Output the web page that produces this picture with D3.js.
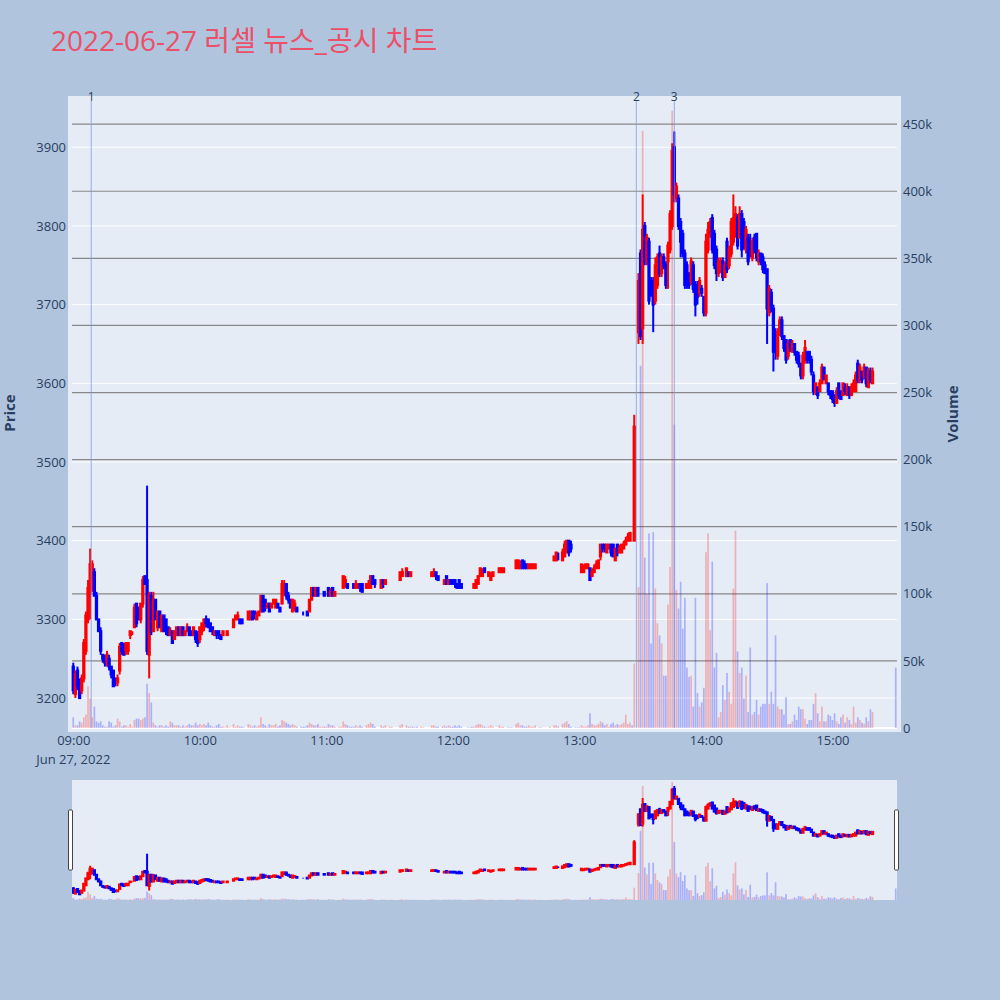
<!DOCTYPE html>
<html>
<head>
<meta charset="utf-8">
<script src="https://cdn.jsdelivr.net/npm/d3@7"></script>
<style>
  body { margin: 0; background: #b0c4de; }
  text { font-family: 'Open Sans', 'Noto Sans CJK KR', sans-serif; }
</style>
</head>
<body>
<svg id="chart" width="1000" height="1000"></svg>
<script>
const day = '2022-06-27'
const title = '2022-06-27 러셀 뉴스_공시 차트'

// one-minute bars: [time, open, high, low, close, volume]
const bars09 = [
  ['09:00', 3240, 3245, 3205, 3210, 8000], ['09:01', 3205, 3235, 3200, 3230, 2000],
  ['09:02', 3235, 3240, 3210, 3215, 2000], ['09:03', 3220, 3225, 3200, 3200, 5000],
  ['09:04', 3210, 3230, 3205, 3225, 4000], ['09:05', 3225, 3275, 3220, 3270, 8000],
  ['09:06', 3260, 3310, 3255, 3305, 10000], ['09:07', 3300, 3350, 3295, 3340, 31000],
  ['09:08', 3335, 3390, 3300, 3370, 22000], ['09:09', 3340, 3375, 3335, 3370, 8000],
  ['09:10', 3360, 3365, 3330, 3330, 16000], ['09:11', 3330, 3335, 3300, 3300, 5000],
  ['09:12', 3300, 3300, 3285, 3285, 4000], ['09:13', 3285, 3290, 3255, 3260, 5000],
  ['09:14', 3255, 3255, 3245, 3250, 2000], ['09:15', 3250, 3255, 3240, 3245, 1000],
  ['09:16', 3245, 3260, 3240, 3255, 1000], ['09:17', 3250, 3255, 3235, 3240, 5000],
  ['09:18', 3240, 3240, 3225, 3230, 4000], ['09:19', 3235, 3235, 3215, 3215, 1000],
  ['09:20', 3225, 3225, 3215, 3220, 2000], ['09:21', 3220, 3230, 3215, 3225, 7000],
  ['09:22', 3235, 3270, 3230, 3265, 5000], ['09:23', 3270, 3270, 3255, 3260, 1000],
  ['09:24', 3265, 3270, 3255, 3255, 2000], ['09:25', 3260, 3270, 3255, 3270, 2000],
  ['09:26', 3260, 3270, 3255, 3270, 1000], ['09:27', 3280, 3285, 3275, 3285, 3000],
  ['09:28', 3285, 3285, 3280, 3285, 1000], ['09:29', 3290, 3320, 3290, 3315, 6000],
  ['09:30', 3320, 3320, 3290, 3295, 7000], ['09:31', 3315, 3315, 3300, 3300, 7000],
  ['09:32', 3300, 3320, 3295, 3320, 6000], ['09:33', 3320, 3355, 3315, 3350, 7000],
  ['09:34', 3355, 3355, 3345, 3345, 8000], ['09:35', 3350, 3470, 3255, 3260, 33000],
  ['09:36', 3255, 3335, 3225, 3330, 26000], ['09:37', 3330, 3335, 3280, 3285, 19000],
  ['09:38', 3285, 3335, 3285, 3325, 4000], ['09:39', 3325, 3325, 3300, 3300, 2000],
  ['09:40', 3290, 3310, 3285, 3310, 1000], ['09:41', 3310, 3310, 3290, 3290, 2000],
  ['09:42', 3285, 3305, 3285, 3305, 2000], ['09:43', 3305, 3305, 3285, 3285, 1000],
  ['09:44', 3300, 3300, 3280, 3285, 2000], ['09:45', 3290, 3290, 3280, 3280, 1000],
  ['09:46', 3280, 3290, 3280, 3285, 5000], ['09:47', 3285, 3285, 3270, 3270, 4000],
  ['09:48', 3275, 3285, 3275, 3285, 2000], ['09:49', 3280, 3290, 3280, 3290, 2000],
  ['09:50', 3290, 3290, 3280, 3280, 2000], ['09:51', 3280, 3290, 3280, 3290, 1000],
  ['09:52', 3290, 3290, 3280, 3280, 2000], ['09:53', 3280, 3285, 3280, 3285, 1000],
  ['09:54', 3285, 3295, 3285, 3290, 2000], ['09:55', 3290, 3290, 3280, 3280, 3000],
  ['09:56', 3285, 3285, 3280, 3280, 2000], ['09:57', 3280, 3290, 3280, 3290, 2000],
  ['09:58', 3285, 3285, 3270, 3275, 4000], ['09:59', 3280, 3285, 3265, 3270, 2000]
]
const bars10 = [
  ['10:00', 3275, 3290, 3270, 3290, 3000], ['10:01', 3285, 3295, 3280, 3295, 2000],
  ['10:02', 3290, 3300, 3285, 3300, 3000], ['10:03', 3300, 3305, 3290, 3295, 2000],
  ['10:04', 3300, 3300, 3290, 3290, 4000], ['10:05', 3295, 3295, 3285, 3285, 2000],
  ['10:06', 3290, 3290, 3280, 3285, 1000], ['10:07', 3280, 3285, 3280, 3285, 1000],
  ['10:08', 3285, 3285, 3275, 3280, 2000], ['10:09', 3285, 3285, 3275, 3280, 3000],
  ['10:10', 3280, 3280, 3275, 3275, 1000], ['10:11', 3280, 3285, 3280, 3285, 1000],
  ['10:12', 3285, 3285, 3285, 3285, 500], ['10:13', 3280, 3285, 3280, 3285, 2000],
  ['10:14', 3285, 3285, 3285, 3285, 500], ['10:16', 3290, 3300, 3290, 3300, 3000],
  ['10:17', 3300, 3305, 3300, 3305, 1000], ['10:18', 3300, 3310, 3300, 3305, 2000],
  ['10:19', 3300, 3300, 3295, 3295, 1000], ['10:20', 3300, 3300, 3295, 3295, 1000],
  ['10:21', 3295, 3295, 3295, 3295, 500], ['10:23', 3300, 3310, 3300, 3310, 3000],
  ['10:24', 3300, 3310, 3300, 3310, 2000], ['10:25', 3310, 3310, 3300, 3300, 1000],
  ['10:26', 3310, 3310, 3300, 3305, 2000], ['10:27', 3300, 3310, 3300, 3305, 1000],
  ['10:28', 3305, 3310, 3305, 3310, 2000], ['10:29', 3310, 3330, 3310, 3330, 8000],
  ['10:30', 3330, 3330, 3310, 3310, 3000], ['10:31', 3325, 3325, 3310, 3315, 2000],
  ['10:32', 3315, 3320, 3315, 3320, 1000], ['10:33', 3320, 3320, 3310, 3310, 3000],
  ['10:34', 3315, 3320, 3315, 3320, 2000], ['10:35', 3320, 3325, 3320, 3325, 2000],
  ['10:36', 3315, 3325, 3315, 3325, 3000], ['10:37', 3320, 3320, 3315, 3315, 1000],
  ['10:38', 3315, 3315, 3310, 3310, 2000], ['10:39', 3320, 3350, 3320, 3345, 6000],
  ['10:40', 3335, 3350, 3330, 3345, 5000], ['10:41', 3345, 3345, 3325, 3330, 4000],
  ['10:42', 3330, 3335, 3320, 3325, 3000], ['10:43', 3325, 3325, 3315, 3315, 2000],
  ['10:44', 3310, 3325, 3310, 3325, 3000], ['10:45', 3315, 3325, 3310, 3320, 2000],
  ['10:46', 3315, 3315, 3310, 3310, 1000], ['10:48', 3310, 3310, 3310, 3310, 1000],
  ['10:49', 3310, 3310, 3305, 3310, 1000], ['10:50', 3310, 3310, 3310, 3310, 1000],
  ['10:51', 3310, 3310, 3305, 3305, 2000], ['10:52', 3310, 3325, 3310, 3325, 4000],
  ['10:53', 3325, 3340, 3325, 3340, 3000], ['10:54', 3340, 3340, 3330, 3330, 2000],
  ['10:55', 3330, 3340, 3330, 3340, 2000], ['10:56', 3340, 3340, 3330, 3330, 3000],
  ['10:57', 3335, 3335, 3335, 3335, 1000], ['10:58', 3335, 3335, 3335, 3335, 1000],
  ['10:59', 3335, 3335, 3330, 3330, 1000]
]
const bars11 = [
  ['11:00', 3335, 3335, 3335, 3335, 1000], ['11:01', 3340, 3340, 3330, 3330, 3000],
  ['11:02', 3330, 3340, 3330, 3335, 2000], ['11:03', 3340, 3340, 3330, 3330, 2000],
  ['11:04', 3330, 3335, 3330, 3335, 1000], ['11:06', 3340, 3340, 3340, 3340, 1000],
  ['11:07', 3340, 3340, 3340, 3340, 1000], ['11:08', 3340, 3355, 3340, 3355, 5000],
  ['11:09', 3345, 3355, 3340, 3350, 3000], ['11:10', 3345, 3345, 3340, 3340, 2000],
  ['11:11', 3340, 3340, 3340, 3340, 1000], ['11:12', 3340, 3340, 3340, 3340, 1000],
  ['11:13', 3345, 3345, 3340, 3340, 1000], ['11:14', 3340, 3350, 3340, 3345, 2000],
  ['11:15', 3340, 3345, 3340, 3345, 1000], ['11:16', 3345, 3345, 3335, 3340, 2000],
  ['11:17', 3345, 3345, 3335, 3335, 1000], ['11:19', 3340, 3345, 3340, 3345, 2000],
  ['11:20', 3340, 3350, 3340, 3345, 3000], ['11:21', 3340, 3355, 3340, 3355, 4000],
  ['11:22', 3355, 3355, 3345, 3345, 3000], ['11:23', 3350, 3350, 3340, 3345, 1000],
  ['11:26', 3340, 3350, 3340, 3350, 2000], ['11:27', 3350, 3350, 3340, 3345, 1000],
  ['11:28', 3345, 3350, 3345, 3350, 2000], ['11:30', 3355, 3355, 3355, 3355, 1000],
  ['11:31', 3355, 3355, 3355, 3355, 1000], ['11:35', 3350, 3360, 3350, 3360, 2000],
  ['11:36', 3355, 3365, 3355, 3360, 3000], ['11:38', 3355, 3365, 3355, 3365, 2000],
  ['11:39', 3360, 3360, 3355, 3355, 1000], ['11:40', 3355, 3360, 3355, 3360, 1000],
  ['11:41', 3355, 3355, 3355, 3355, 1000], ['11:42', 3355, 3355, 3355, 3355, 500],
  ['11:43', 3355, 3355, 3355, 3355, 1000], ['11:45', 3360, 3360, 3360, 3360, 1000],
  ['11:46', 3360, 3360, 3360, 3360, 500], ['11:50', 3355, 3360, 3355, 3360, 2000],
  ['11:51', 3355, 3365, 3355, 3360, 2000], ['11:52', 3360, 3360, 3350, 3355, 1000],
  ['11:53', 3355, 3355, 3350, 3350, 1000], ['11:55', 3345, 3345, 3345, 3345, 1000],
  ['11:56', 3345, 3350, 3345, 3350, 2000], ['11:57', 3355, 3355, 3345, 3345, 1000],
  ['11:58', 3345, 3350, 3345, 3350, 2000], ['11:59', 3350, 3350, 3345, 3345, 1000]
]
const bars12 = [
  ['12:00', 3350, 3350, 3345, 3345, 1000], ['12:01', 3350, 3350, 3340, 3345, 2000],
  ['12:02', 3345, 3345, 3340, 3340, 1000], ['12:03', 3350, 3350, 3340, 3340, 2000],
  ['12:04', 3345, 3345, 3340, 3340, 1000], ['12:07', 3340, 3340, 3340, 3340, 500],
  ['12:08', 3340, 3340, 3340, 3340, 500], ['12:09', 3340, 3340, 3340, 3340, 1000],
  ['12:10', 3340, 3345, 3340, 3345, 1000], ['12:11', 3340, 3350, 3340, 3350, 2000],
  ['12:12', 3345, 3355, 3345, 3355, 3000], ['12:13', 3355, 3365, 3355, 3365, 3000],
  ['12:14', 3355, 3365, 3355, 3360, 2000], ['12:15', 3365, 3365, 3360, 3360, 1000],
  ['12:16', 3360, 3360, 3360, 3360, 500], ['12:17', 3355, 3360, 3355, 3360, 1000],
  ['12:18', 3350, 3360, 3350, 3355, 2000], ['12:19', 3355, 3360, 3355, 3360, 1000],
  ['12:22', 3360, 3365, 3360, 3365, 2000], ['12:23', 3360, 3365, 3360, 3365, 1000],
  ['12:24', 3360, 3365, 3360, 3365, 1000], ['12:26', 3360, 3360, 3360, 3360, 500],
  ['12:27', 3360, 3360, 3360, 3360, 500], ['12:28', 3360, 3360, 3360, 3360, 500],
  ['12:30', 3365, 3375, 3365, 3375, 3000], ['12:31', 3365, 3375, 3365, 3375, 4000],
  ['12:32', 3365, 3375, 3365, 3370, 2000], ['12:33', 3375, 3375, 3365, 3365, 2000],
  ['12:34', 3370, 3375, 3365, 3365, 1000], ['12:35', 3370, 3370, 3365, 3365, 1000],
  ['12:36', 3365, 3370, 3365, 3370, 2000], ['12:37', 3365, 3370, 3365, 3370, 1000],
  ['12:38', 3365, 3370, 3365, 3370, 1000], ['12:39', 3365, 3370, 3365, 3370, 2000],
  ['12:41', 3360, 3360, 3360, 3360, 500], ['12:42', 3360, 3360, 3360, 3360, 500],
  ['12:46', 3370, 3370, 3370, 3370, 1000], ['12:48', 3375, 3380, 3375, 3380, 2000],
  ['12:49', 3375, 3385, 3375, 3385, 2000], ['12:50', 3380, 3385, 3375, 3380, 1000],
  ['12:52', 3375, 3390, 3375, 3385, 3000], ['12:53', 3380, 3400, 3380, 3395, 4000],
  ['12:54', 3385, 3400, 3385, 3400, 5000], ['12:55', 3400, 3400, 3380, 3385, 3000],
  ['12:56', 3395, 3400, 3385, 3390, 1000], ['12:58', 3375, 3375, 3375, 3375, 500],
  ['12:59', 3375, 3375, 3375, 3375, 500]
]
const bars13 = [
  ['13:00', 3370, 3370, 3370, 3370, 500], ['13:01', 3360, 3370, 3360, 3370, 2000],
  ['13:02', 3360, 3370, 3360, 3365, 1000], ['13:03', 3365, 3370, 3365, 3370, 1000],
  ['13:04', 3365, 3370, 3365, 3370, 2000], ['13:05', 3365, 3365, 3350, 3350, 11000],
  ['13:06', 3355, 3365, 3355, 3360, 3000], ['13:07', 3360, 3370, 3360, 3365, 2000],
  ['13:08', 3365, 3375, 3365, 3370, 2000], ['13:09', 3365, 3375, 3365, 3375, 3000],
  ['13:10', 3380, 3395, 3375, 3395, 5000], ['13:11', 3395, 3395, 3385, 3390, 4000],
  ['13:12', 3395, 3395, 3385, 3390, 2000], ['13:13', 3385, 3395, 3385, 3395, 3000],
  ['13:14', 3390, 3395, 3390, 3395, 1000], ['13:15', 3395, 3395, 3380, 3385, 3000],
  ['13:16', 3395, 3395, 3380, 3380, 4000], ['13:17', 3375, 3390, 3375, 3390, 2000],
  ['13:18', 3395, 3395, 3380, 3385, 3000], ['13:19', 3385, 3395, 3385, 3390, 2000],
  ['13:20', 3385, 3395, 3385, 3395, 3000], ['13:21', 3390, 3400, 3390, 3395, 4000],
  ['13:22', 3395, 3405, 3395, 3400, 10000], ['13:23', 3400, 3410, 3400, 3405, 3000],
  ['13:24', 3400, 3410, 3400, 3410, 4000], ['13:25', 3400, 3400, 3400, 3400, 2000],
  ['13:26', 3400, 3560, 3400, 3545, 48000], ['13:28', 3665, 3740, 3650, 3730, 105000],
  ['13:29', 3765, 3770, 3655, 3660, 270000], ['13:30', 3670, 3840, 3650, 3795, 445000],
  ['13:31', 3800, 3805, 3750, 3755, 127000], ['13:32', 3755, 3790, 3750, 3785, 100000],
  ['13:33', 3780, 3785, 3700, 3705, 145000], ['13:34', 3730, 3735, 3710, 3715, 63000],
  ['13:35', 3730, 3735, 3665, 3700, 146000], ['13:36', 3705, 3760, 3700, 3750, 104000],
  ['13:37', 3725, 3765, 3720, 3760, 78000], ['13:38', 3765, 3775, 3735, 3740, 69000],
  ['13:39', 3740, 3765, 3735, 3760, 63000], ['13:40', 3760, 3765, 3745, 3750, 39000],
  ['13:41', 3750, 3755, 3720, 3725, 39000], ['13:42', 3755, 3780, 3720, 3775, 92000],
  ['13:43', 3770, 3820, 3765, 3815, 120000], ['13:44', 3800, 3905, 3795, 3895, 460000],
  ['13:45', 3900, 3920, 3830, 3840, 226000], ['13:46', 3835, 3855, 3830, 3850, 103000],
  ['13:47', 3835, 3840, 3795, 3800, 89000], ['13:48', 3805, 3810, 3760, 3780, 109000],
  ['13:49', 3790, 3795, 3760, 3765, 74000], ['13:50', 3765, 3770, 3720, 3725, 97000],
  ['13:51', 3750, 3755, 3720, 3730, 45000], ['13:52', 3740, 3740, 3720, 3725, 38000],
  ['13:53', 3730, 3760, 3725, 3755, 39000], ['13:54', 3750, 3755, 3715, 3720, 16000],
  ['13:55', 3725, 3730, 3685, 3700, 97000], ['13:56', 3720, 3730, 3700, 3710, 26000],
  ['13:57', 3715, 3735, 3710, 3730, 16000], ['13:58', 3720, 3725, 3710, 3715, 19000],
  ['13:59', 3710, 3710, 3685, 3690, 30000]
]
const bars14 = [
  ['14:00', 3690, 3790, 3685, 3780, 131000], ['14:01', 3770, 3805, 3765, 3795, 145000],
  ['14:02', 3790, 3810, 3785, 3805, 73000], ['14:03', 3810, 3815, 3765, 3770, 124000],
  ['14:04', 3790, 3795, 3745, 3750, 45000], ['14:05', 3770, 3775, 3730, 3740, 56000],
  ['14:06', 3740, 3760, 3735, 3755, 8000], ['14:07', 3745, 3760, 3740, 3755, 12000],
  ['14:08', 3755, 3760, 3730, 3735, 32000], ['14:09', 3735, 3755, 3735, 3750, 21000],
  ['14:10', 3780, 3785, 3740, 3745, 41000], ['14:11', 3750, 3775, 3745, 3770, 27000],
  ['14:12', 3765, 3810, 3760, 3805, 18000], ['14:13', 3780, 3840, 3775, 3810, 104000],
  ['14:14', 3790, 3825, 3785, 3815, 147000], ['14:15', 3810, 3815, 3770, 3775, 57000],
  ['14:16', 3785, 3825, 3785, 3815, 41000], ['14:17', 3815, 3820, 3760, 3770, 45000],
  ['14:18', 3805, 3810, 3770, 3775, 22000], ['14:19', 3770, 3800, 3765, 3795, 39000],
  ['14:20', 3785, 3790, 3750, 3755, 12000], ['14:21', 3780, 3790, 3760, 3770, 60000],
  ['14:22', 3760, 3785, 3755, 3780, 10000], ['14:23', 3785, 3790, 3765, 3770, 12000],
  ['14:24', 3790, 3790, 3755, 3760, 21000], ['14:25', 3755, 3770, 3750, 3765, 10000],
  ['14:26', 3765, 3765, 3750, 3755, 16000], ['14:27', 3760, 3765, 3740, 3745, 18000],
  ['14:28', 3750, 3755, 3740, 3740, 18000], ['14:29', 3745, 3745, 3650, 3695, 108000],
  ['14:30', 3690, 3725, 3685, 3720, 18000], ['14:31', 3715, 3720, 3690, 3695, 27000],
  ['14:32', 3695, 3700, 3615, 3640, 18000], ['14:33', 3665, 3670, 3630, 3640, 69000],
  ['14:34', 3635, 3670, 3630, 3665, 16000], ['14:35', 3665, 3685, 3660, 3680, 14000],
  ['14:36', 3680, 3685, 3655, 3660, 14000], ['14:37', 3660, 3660, 3640, 3645, 10000],
  ['14:38', 3655, 3655, 3625, 3630, 23000], ['14:39', 3635, 3655, 3630, 3650, 3000],
  ['14:40', 3655, 3655, 3640, 3645, 3000], ['14:41', 3640, 3655, 3640, 3650, 5000],
  ['14:42', 3650, 3650, 3635, 3640, 10000], ['14:43', 3640, 3640, 3625, 3630, 6000],
  ['14:44', 3635, 3640, 3620, 3625, 16000], ['14:45', 3625, 3625, 3605, 3610, 14000],
  ['14:46', 3610, 3640, 3605, 3635, 14000], ['14:47', 3630, 3655, 3625, 3645, 7000],
  ['14:48', 3640, 3640, 3625, 3630, 3000], ['14:49', 3640, 3640, 3625, 3630, 6000],
  ['14:50', 3630, 3635, 3610, 3615, 6000], ['14:51', 3610, 3615, 3585, 3590, 18000],
  ['14:52', 3590, 3600, 3585, 3600, 26000], ['14:53', 3595, 3595, 3580, 3585, 11000],
  ['14:54', 3590, 3605, 3590, 3600, 5000], ['14:55', 3600, 3625, 3600, 3620, 16000],
  ['14:56', 3620, 3620, 3605, 3605, 5000], ['14:57', 3600, 3610, 3600, 3610, 5000],
  ['14:58', 3600, 3600, 3585, 3590, 10000], ['14:59', 3590, 3590, 3580, 3585, 9000]
]
const bars15 = [
  ['15:00', 3590, 3590, 3575, 3580, 6000], ['15:01', 3585, 3585, 3570, 3575, 11000],
  ['15:02', 3575, 3595, 3575, 3590, 5000], ['15:03', 3600, 3600, 3580, 3585, 3000],
  ['15:04', 3590, 3590, 3580, 3580, 8000], ['15:05', 3585, 3600, 3585, 3600, 10000],
  ['15:06', 3595, 3600, 3585, 3590, 4000], ['15:07', 3585, 3600, 3585, 3595, 8000],
  ['15:08', 3595, 3595, 3580, 3585, 6000], ['15:09', 3585, 3600, 3585, 3595, 3000],
  ['15:10', 3590, 3605, 3590, 3600, 16000], ['15:11', 3590, 3615, 3590, 3610, 4000],
  ['15:12', 3625, 3630, 3600, 3605, 8000], ['15:13', 3605, 3625, 3600, 3620, 6000],
  ['15:14', 3615, 3615, 3600, 3605, 4000], ['15:15', 3610, 3625, 3605, 3620, 3000],
  ['15:16', 3620, 3620, 3595, 3600, 8000], ['15:17', 3595, 3620, 3595, 3615, 5000],
  ['15:18', 3615, 3620, 3600, 3605, 14000], ['15:19', 3600, 3620, 3600, 3615, 12000],
  ['15:30', 3610, 3610, 3610, 3610, 45000]
]

// news markers
const newsTimes = ['09:08:30', '13:27:00', '13:45:00']
const newsLabels = ['1', '2', '3']

const priceTicks = [3200, 3300, 3400, 3500, 3600, 3700, 3800, 3900]
const volumeTicks = [0, 50000, 100000, 150000, 200000, 250000, 300000, 350000, 400000, 450000]
const hourTicks = ['09:00', '10:00', '11:00', '12:00', '13:00', '14:00', '15:00']

const parseMin = d3.timeParse('%Y-%m-%d %H:%M')
const parseSec = d3.timeParse('%Y-%m-%d %H:%M:%S')

var bars = [].concat(bars09, bars10, bars11, bars12, bars13, bars14, bars15).map(function(r) {
  return { t: parseMin(day + ' ' + r[0]), o: r[1], h: r[2], l: r[3], c: r[4], v: r[5] }
})

// plotly style direction: flat bars compare against previous close
var prevClose = null, prevUp = true
bars.forEach(function(d) {
  if (d.c > d.o) d.up = true
  else if (d.c < d.o) d.up = false
  else if (prevClose !== null && d.c !== prevClose) d.up = d.c > prevClose
  else d.up = prevUp
  prevUp = d.up
  prevClose = d.c
})

var plot = { left: 72, right: 897, top: 100, bottom: 728 }
var slider = { top: 780, bottom: 900 }

var x = d3.scaleTime()
  .domain([parseSec(day + ' 08:59:24'), parseSec(day + ' 15:30:36')])
  .range([plot.left, plot.right])

var y = d3.scaleLinear().domain([3162, 3960]).range([plot.bottom, plot.top])
var yVol = d3.scaleLinear().domain([0, 468000]).range([plot.bottom, plot.top])
var ySlide = d3.scaleLinear().domain([3162, 3960]).range([slider.bottom, slider.top])
var yVolSlide = d3.scaleLinear().domain([0, 468000]).range([slider.bottom, slider.top])

var red = '#ff0000', blue = '#0000ff'
var tickColor = '#2a3f5f'

var svg = d3.select('#chart')

svg.append('rect').attr('width', 1000).attr('height', 1000).attr('fill', '#b0c4de')

svg.append('text')
  .attr('x', 51).attr('y', 51)
  .attr('font-size', 28)
  .attr('fill', '#eb5068')
  .text(title)

// plot background
svg.append('rect')
  .attr('x', 68).attr('y', 96)
  .attr('width', 833).attr('height', 636)
  .attr('fill', '#e5ecf6')

svg.append('defs').append('clipPath').attr('id', 'clip-main')
  .append('rect').attr('x', 68).attr('y', 96).attr('width', 833).attr('height', 636)
svg.select('defs').append('clipPath').attr('id', 'clip-slide')
  .append('rect').attr('x', plot.left).attr('y', slider.top)
  .attr('width', plot.right - plot.left).attr('height', slider.bottom - slider.top)

// price grid (white) and volume grid (grey)
svg.append('g').selectAll('line').data(priceTicks).enter().append('line')
  .attr('x1', plot.left).attr('x2', plot.right)
  .attr('y1', function(d) { return y(d) }).attr('y2', function(d) { return y(d) })
  .attr('stroke', '#ffffff').attr('stroke-width', 1)

svg.append('g').selectAll('line').data(volumeTicks.slice(1)).enter().append('line')
  .attr('x1', plot.left).attr('x2', plot.right)
  .attr('y1', function(d) { return yVol(d) }).attr('y2', function(d) { return yVol(d) })
  .attr('stroke', '#888888').attr('stroke-width', 1.2)

svg.append('line')
  .attr('x1', plot.left).attr('x2', plot.right)
  .attr('y1', yVol(0)).attr('y2', yVol(0))
  .attr('stroke', '#ffffff').attr('stroke-width', 2)

function drawVolume(g, yv) {
  g.selectAll('.vol').data(bars).enter().append('rect')
    .attr('class', 'vol')
    .attr('x', function(d) { return x(d.t) - 0.85 })
    .attr('width', 1.7)
    .attr('y', function(d) { return yv(d.v) })
    .attr('height', function(d) { return yv(0) - yv(d.v) })
    .attr('fill', function(d) { return d.up ? red : blue })
    .attr('fill-opacity', 0.25)
}

function drawCandles(g, yp) {
  var c = g.selectAll('.candle').data(bars).enter().append('g')
    .attr('class', 'candle')
    .attr('stroke', function(d) { return d.up ? red : blue })
    .attr('stroke-width', 2)

  c.append('line')
    .attr('x1', function(d) { return x(d.t) })
    .attr('x2', function(d) { return x(d.t) })
    .attr('y1', function(d) { return yp(d.h) })
    .attr('y2', function(d) { return yp(d.l) })

  c.append('rect')
    .attr('x', function(d) { return x(d.t) - 0.65 })
    .attr('width', 1.3)
    .attr('y', function(d) { return yp(Math.max(d.o, d.c)) })
    .attr('height', function(d) { return yp(Math.min(d.o, d.c)) - yp(Math.max(d.o, d.c)) })
    .attr('fill', function(d) { return d.up ? red : blue })
}

var main = svg.append('g').attr('clip-path', 'url(#clip-main)')
drawVolume(main, yVol)
drawCandles(main, y)

// news lines
var news = svg.append('g')
newsTimes.forEach(function(t, i) {
  var nx = x(parseSec(day + ' ' + t))
  news.append('line')
    .attr('x1', nx).attr('x2', nx)
    .attr('y1', 101).attr('y2', plot.bottom)
    .attr('stroke', '#7f96e6').attr('stroke-opacity', 0.75).attr('stroke-width', 1)
  news.append('text')
    .attr('x', nx).attr('y', 101)
    .attr('text-anchor', 'middle')
    .attr('font-size', 12)
    .attr('fill', tickColor)
    .text(newsLabels[i])
})

// axes
var leftAxis = svg.append('g')
  .attr('transform', 'translate(' + plot.left + ',0)')
  .call(d3.axisLeft(y).tickValues(priceTicks).tickSize(0).tickPadding(6)
    .tickFormat(d3.format('d')))
leftAxis.select('.domain').remove()
leftAxis.selectAll('text').attr('font-size', 13).attr('fill', tickColor).attr('font-family', null)

var rightAxis = svg.append('g')
  .attr('transform', 'translate(' + plot.right + ',0)')
  .call(d3.axisRight(yVol).tickValues(volumeTicks).tickSize(0).tickPadding(6)
    .tickFormat(function(d) { return d === 0 ? '0' : (d / 1000) + 'k' }))
rightAxis.select('.domain').remove()
rightAxis.selectAll('text').attr('font-size', 13).attr('fill', tickColor).attr('font-family', null)

var bottomAxis = svg.append('g')
  .attr('transform', 'translate(0,' + plot.bottom + ')')
  .call(d3.axisBottom(x)
    .tickValues(hourTicks.map(function(h) { return parseMin(day + ' ' + h) }))
    .tickFormat(d3.timeFormat('%H:%M'))
    .tickSize(0).tickPadding(8))
bottomAxis.select('.domain').remove()
bottomAxis.selectAll('text').attr('font-size', 13).attr('fill', tickColor).attr('font-family', null)

svg.append('text')
  .attr('x', x(parseMin(day + ' 09:00'))).attr('y', 764)
  .attr('text-anchor', 'middle')
  .attr('font-size', 13)
  .attr('fill', tickColor)
  .text('Jun 27, 2022')

svg.append('text')
  .attr('transform', 'translate(15,413) rotate(-90)')
  .attr('text-anchor', 'middle')
  .attr('font-size', 15).attr('font-weight', 'bold')
  .attr('fill', tickColor)
  .text('Price')

svg.append('text')
  .attr('transform', 'translate(958,414) rotate(-90)')
  .attr('text-anchor', 'middle')
  .attr('font-size', 15).attr('font-weight', 'bold')
  .attr('fill', tickColor)
  .text('Volume')

// range slider
svg.append('rect')
  .attr('x', plot.left).attr('y', slider.top)
  .attr('width', plot.right - plot.left).attr('height', slider.bottom - slider.top)
  .attr('fill', '#e5ecf6')

var mini = svg.append('g').attr('clip-path', 'url(#clip-slide)')
drawVolume(mini, yVolSlide)
drawCandles(mini, ySlide)

svg.selectAll('.handle').data([plot.left - 1.5, plot.right - 0.5]).enter().append('rect')
  .attr('class', 'handle')
  .attr('x', function(d) { return d - 2 })
  .attr('y', 810)
  .attr('width', 4).attr('height', 60)
  .attr('rx', 1)
  .attr('fill', '#ffffff').attr('stroke', '#444444').attr('stroke-width', 1)
</script>
</body>
</html>
